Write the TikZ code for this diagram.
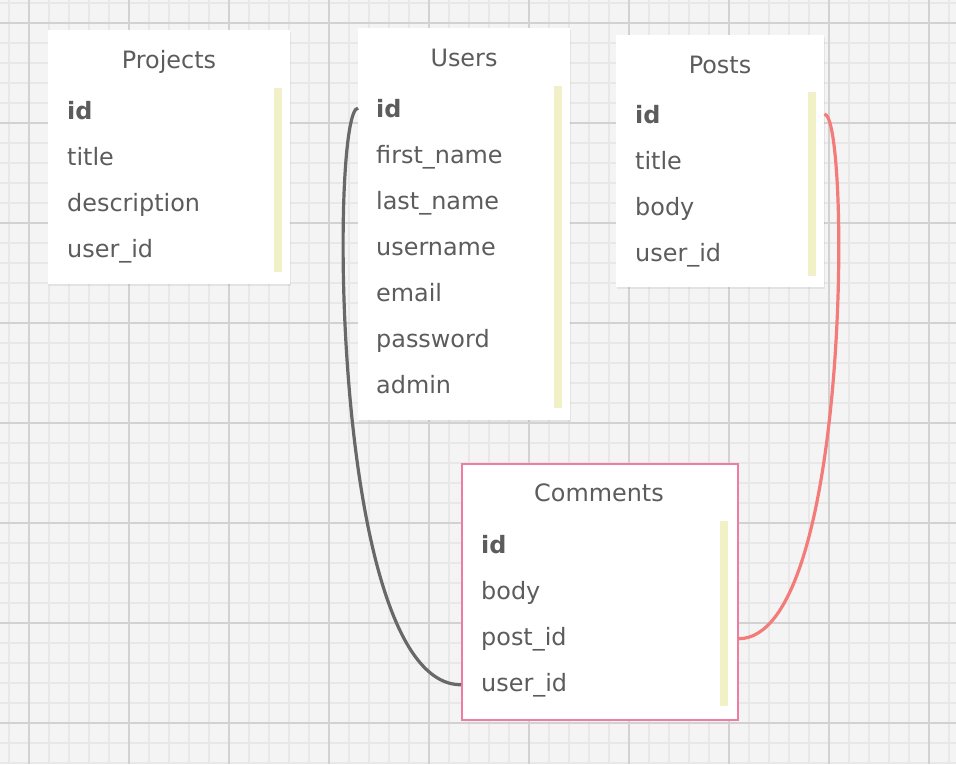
\documentclass[tikz,border=0pt]{standalone}
\usepackage{fontspec}
\setmainfont{DejaVu Sans}
\usetikzlibrary{positioning, shadows}
\definecolor{canvasGray}{RGB}{244, 244, 244}
\definecolor{gridMinor}{RGB}{232, 232, 232}
\definecolor{gridMajor}{RGB}{210, 210, 210}
\definecolor{textGray}{RGB}{92, 92, 92}
\definecolor{keyYellow}{RGB}{242, 240, 198}
\definecolor{linkGray}{RGB}{104, 104, 104}
\definecolor{linkRed}{RGB}{243, 124, 122}
\definecolor{selectPink}{RGB}{240, 124, 160}
\newcommand{\erdfont}{\fontsize{23.9}{28}\selectfont}

\begin{document}
\begin{tikzpicture}[
    x=1pt, y=-1pt,
    gridminor/.style={
        draw=gridMinor,
        line width=1.6pt
    },
    gridmajor/.style={
        draw=gridMajor,
        line width=1.8pt
    },
    tablebox/.style={
        rectangle,
        anchor=north west,
        inner sep=0pt,
        fill=white,
        drop shadow={shadow xshift=0.6pt, shadow yshift=-1.6pt, opacity=0.14}
    },
    tabletitle/.style={
        anchor=base,
        inner sep=0pt,
        font=\erdfont,
        text=textGray
    },
    field/.style={
        anchor=base west,
        inner sep=0pt,
        font=\erdfont,
        text=textGray
    },
    keyfield/.style={
        field,
        font=\erdfont\bfseries
    },
    keybar/.style={
        fill=keyYellow
    },
    link/.style={
        line width=3.2pt
    }
]

\useasboundingbox (0,0) rectangle (956,764);

% Canvas grid
\fill[canvasGray] (0,0) rectangle (956,764);
\foreach \gx in {9,29,...,949}
    \draw[gridminor] (\gx,0) -- (\gx,764);
\foreach \gy in {2.7,22.7,...,762.7}
    \draw[gridminor] (0,\gy) -- (956,\gy);
\foreach \gx in {29,129,...,929}
    \draw[gridmajor] (\gx,0) -- (\gx,764);
\foreach \gy in {22.7,122.7,...,722.7}
    \draw[gridmajor] (0,\gy) -- (956,\gy);

% Tables
\node[tablebox, minimum width=242pt, minimum height=254pt] (projects) at (48,30) {};
\node[tablebox, minimum width=212pt, minimum height=392pt] (users) at (358,28) {};
\node[tablebox, minimum width=208pt, minimum height=252pt] (posts) at (616,35) {};
\node[tablebox, minimum width=276pt, minimum height=256pt, draw=selectPink, line width=1.5pt] (comments) at (461,463) {};

% Key bars
\fill[keybar] (274,88) rectangle (282,272);
\fill[keybar] (554,86) rectangle (562,408);
\fill[keybar] (808,92) rectangle (816,276);
\fill[keybar] (720,521) rectangle (728,706);

% Projects
\node[tabletitle] (projects-title) at (169,68) {Projects};
\node[keyfield] (projects-id) at (67,119) {id};
\node[field] (projects-title-f) at (67,165) {title};
\node[field] (projects-description) at (67,211) {description};
\node[field] (projects-userid) at (67,257) {user\_id};

% Users
\node[tabletitle] (users-title) at (464,66) {Users};
\node[keyfield] (users-id) at (376,117) {id};
\node[field] (users-firstname) at (376,163) {first\_name};
\node[field] (users-lastname) at (376,209) {last\_name};
\node[field] (users-username) at (376,255) {username};
\node[field] (users-email) at (376,301) {email};
\node[field] (users-password) at (376,347) {password};
\node[field] (users-admin) at (376,393) {admin};

% Posts
\node[tabletitle] (posts-title) at (720,73) {Posts};
\node[keyfield] (posts-id) at (635,123) {id};
\node[field] (posts-title-f) at (635,169) {title};
\node[field] (posts-body) at (635,215) {body};
\node[field] (posts-userid) at (635,261) {user\_id};

% Comments
\node[tabletitle] (comments-title) at (599,501) {Comments};
\node[keyfield] (comments-id) at (481,553) {id};
\node[field] (comments-body) at (481,599) {body};
\node[field] (comments-postid) at (481,645) {post\_id};
\node[field] (comments-userid) at (481,691) {user\_id};

% Relations
\draw[link, draw=linkGray] (users.west |- users-id) .. controls +(-28,0) and +(-131,0) .. (comments.west |- comments-userid);
\draw[link, draw=linkRed] (posts.east |- posts-id) .. controls +(26,0) and +(113,0) .. (comments.east |- comments-postid);

\end{tikzpicture}
\end{document}
